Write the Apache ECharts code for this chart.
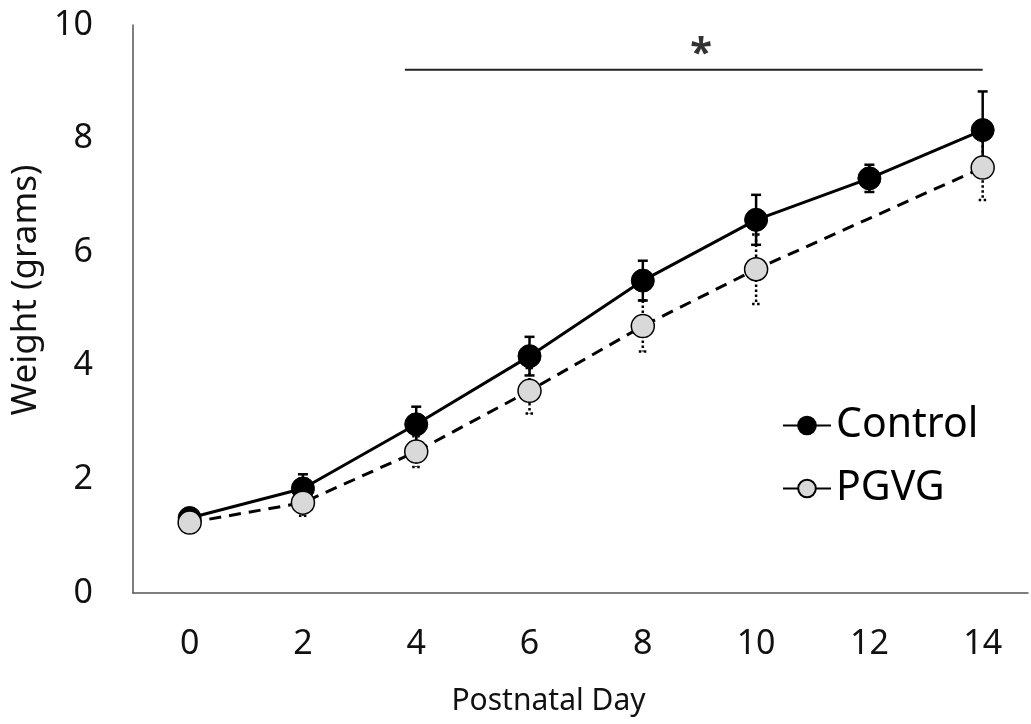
<!DOCTYPE html>
<html>
<head>
<meta charset="utf-8">
<script src="https://cdn.jsdelivr.net/npm/echarts@6/dist/echarts.min.js"></script>
<style>
  html, body { margin: 0; padding: 0; background: #fff; }
  #chart { width: 1031px; height: 724px; }
</style>
</head>
<body>
<div id="chart"></div>
<script>
// postnatal days shown on the x axis
const dayTicks = [0, 2, 4, 6, 8, 10, 12, 14];
const weightTicks = [0, 2, 4, 6, 8, 10];

// Control group (mean, error)
const controlDays = [0, 2, 4, 6, 8, 10, 12, 14];
const controlMean = [1.32, 1.84, 2.97, 4.17, 5.50, 6.57, 7.30, 8.15];
const controlErr = [0.06, 0.25, 0.31, 0.34, 0.35, 0.44, 0.24, 0.68];

// PGVG group, no point at day 12
const pgvgDays = [0, 2, 4, 6, 8, 10, 14];
const pgvgMean = [1.24, 1.59, 2.49, 3.56, 4.70, 5.70, 7.49];
const pgvgErr = [0.06, 0.23, 0.27, 0.40, 0.45, 0.61, 0.57];

// significance bar and star
const sigLine = [[3.8, 9.21], [14, 9.21]];
const sigStar = [[9.03, 9.62]];

const FONT = 'Noto Sans';

function pairs(xs, ys, es) {
  return xs.map(function (x, i) {
    return es ? [x, ys[i], es[i]] : [x, ys[i]];
  });
}

function errorBars(dash, capW, width) {
  return function (params, api) {
    const x = api.value(0), y = api.value(1), e = api.value(2);
    const hi = api.coord([x, y + e]);
    const lo = api.coord([x, y - e]);
    const style = { stroke: '#000', lineWidth: width, lineDash: dash };
    return {
      type: 'group',
      children: [
        { type: 'line', shape: { x1: hi[0], y1: hi[1], x2: lo[0], y2: lo[1] }, style: style },
        { type: 'line', shape: { x1: hi[0] - capW / 2, y1: hi[1], x2: hi[0] + capW / 2, y2: hi[1] }, style: style },
        { type: 'line', shape: { x1: lo[0] - capW / 2, y1: lo[1], x2: lo[0] + capW / 2, y2: lo[1] }, style: style }
      ]
    };
  };
}

const chart = echarts.init(document.getElementById('chart'), null, { renderer: 'canvas' });

var option = {
  animation: false,
  backgroundColor: '#fff',
  grid: {
    left: 133,
    right: 2,
    top: 25,
    bottom: 131
  },
  legend: {
    data: [
      { name: 'Control' },
      { name: 'PGVG', lineStyle: { type: 'solid' } }
    ],
    orient: 'vertical',
    left: 777,
    top: 400,
    itemWidth: 48,
    itemHeight: 22,
    itemGap: 22,
    textStyle: {
      fontFamily: FONT,
      fontSize: 41,
      color: '#000'
    }
  },
  xAxis: {
    type: 'value',
    min: -1,
    max: 14.8,
    interval: 1,
    name: 'Postnatal Day',
    nameLocation: 'middle',
    nameGap: 93,
    nameTextStyle: {
      fontFamily: FONT,
      fontSize: 30,
      color: '#111',
      padding: [0, 64, 0, 0]
    },
    axisLine: { lineStyle: { color: '#555', width: 1.5 } },
    axisTick: { show: false },
    splitLine: { show: false },
    axisLabel: {
      margin: 34,
      fontFamily: FONT,
      fontSize: 34,
      color: '#111',
      formatter: function (v) {
        return dayTicks.indexOf(v) >= 0 ? String(v) : '';
      }
    }
  },
  yAxis: {
    type: 'value',
    min: 0,
    max: 10,
    interval: 2,
    name: 'Weight (grams)',
    nameLocation: 'middle',
    nameGap: 88,
    nameTextStyle: {
      fontFamily: FONT,
      fontSize: 35,
      color: '#111',
      padding: [0, 0, 0, 38]
    },
    axisLine: { show: true, onZero: false, lineStyle: { color: '#555', width: 1.5 } },
    axisTick: { show: false },
    splitLine: { show: false },
    axisLabel: {
      margin: 40,
      fontFamily: FONT,
      fontSize: 34,
      color: '#111',
      formatter: function (v) {
        return weightTicks.indexOf(v) >= 0 ? String(v) : '';
      }
    }
  },
  series: [
    {
      name: 'Control err',
      type: 'custom',
      z: 2,
      renderItem: errorBars(null, 10, 2.5),
      data: pairs(controlDays, controlMean, controlErr)
    },
    {
      name: 'Control',
      type: 'line',
      z: 3,
      data: pairs(controlDays, controlMean),
      symbol: 'circle',
      symbolSize: 23,
      itemStyle: { color: '#000', borderColor: '#000', borderWidth: 1 },
      lineStyle: { color: '#000', width: 3 }
    },
    {
      name: 'PGVG err',
      type: 'custom',
      z: 4,
      renderItem: errorBars([2.5, 2.5], 8, 2.5),
      data: pairs(pgvgDays, pgvgMean, pgvgErr)
    },
    {
      name: 'PGVG',
      type: 'line',
      z: 5,
      data: pairs(pgvgDays, pgvgMean),
      symbol: 'circle',
      symbolSize: 23,
      itemStyle: { color: '#d9d9d9', borderColor: '#000', borderWidth: 1.5 },
      lineStyle: { color: '#000', width: 3, type: [12, 8] }
    },
    {
      name: 'sig',
      type: 'line',
      z: 1,
      data: sigLine,
      symbol: 'none',
      lineStyle: { color: '#222', width: 2 }
    },
    {
      name: 'star',
      type: 'scatter',
      data: sigStar,
      symbolSize: 0,
      label: {
        show: true,
        position: 'inside',
        formatter: '*',
        fontFamily: FONT,
        fontWeight: 'bold',
        fontSize: 40,
        color: '#000',
        offset: [0, 8]
      }
    }
  ]
};

chart.setOption(option);
</script>
</body>
</html>
